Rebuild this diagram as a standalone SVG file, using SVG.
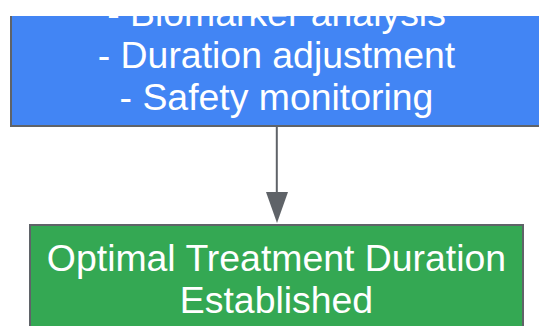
<svg xmlns="http://www.w3.org/2000/svg" width="539" height="326" viewBox="0 0 539 326">
<style>
.node rect{stroke:#5f6368;stroke-width:2}
.lbl{font-family:"Liberation Sans",Arial,sans-serif;font-size:37.4px;fill:#ffffff;text-anchor:middle}
.edge{stroke:#5f6368;stroke-width:2;fill:none}
</style>
<defs>
<clipPath id="topclip"><rect x="0" y="16" width="539" height="200"/></clipPath>
</defs>
<rect width="539" height="326" fill="#ffffff"/>
<g id="node-monitoring" class="node" clip-path="url(#topclip)">
<rect x="11" y="-60" width="560" height="186" fill="#4285f4"/>
<text class="lbl" x="276.5" y="26">- Biomarker analysis</text>
<text class="lbl" x="276.5" y="68">- Duration adjustment</text>
<text class="lbl" x="276.5" y="110">- Safety monitoring</text>
</g>
<g id="connectors">
<line class="edge" x1="276.8" y1="127" x2="276.8" y2="193"/>
<polygon points="266,192 288,192 277,223" fill="#5f6368"/>
</g>
<g id="node-optimal" class="node">
<rect x="30" y="225" width="493" height="140" fill="#34a853"/>
<text class="lbl" x="276.5" y="271">Optimal Treatment Duration</text>
<text class="lbl" x="276.5" y="313">Established</text>
</g>
</svg>
